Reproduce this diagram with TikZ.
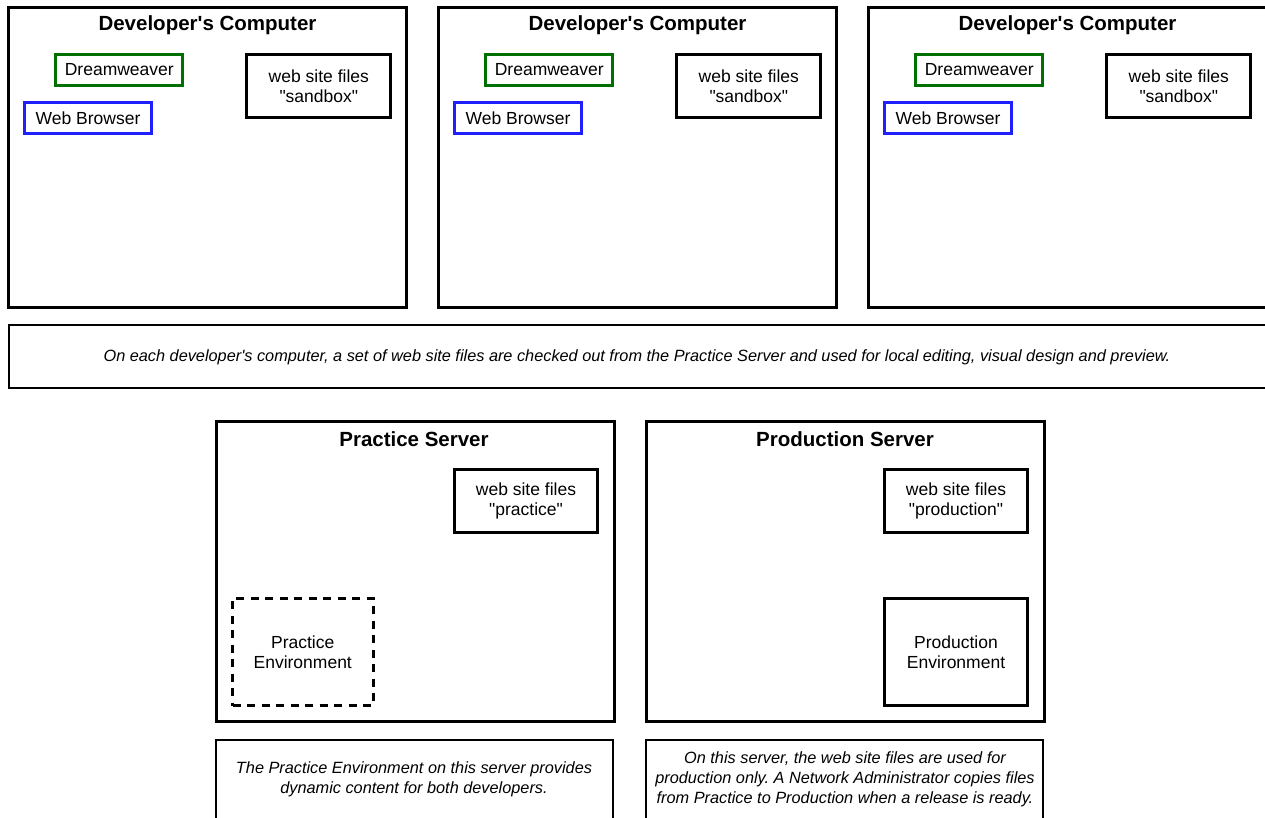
\documentclass[tikz,border=0pt]{standalone}
\usepackage{fontspec}
\setmainfont{Liberation Sans}[Ligatures=TeXOff]
\definecolor{dwgreen}{RGB}{0,112,0}
\definecolor{wbblue}{RGB}{32,32,255}
\frenchspacing
\begin{document}
\begin{tikzpicture}[x=1pt,y=-1pt,
  base/.style={inner sep=0pt, outer sep=0pt, anchor=north west, align=center,
    font=\fontsize{17.5}{20}\selectfont},
  machine/.style={base, draw, line width=3pt, minimum width=398pt, minimum height=300.5pt},
  filesbox/.style={base, draw, line width=3pt, minimum width=144pt, minimum height=63pt},
  dwbox/.style={base, draw=dwgreen, line width=3pt, minimum width=127pt, minimum height=30.5pt},
  wbbox/.style={base, draw=wbblue, line width=3pt, minimum width=126.5pt, minimum height=30.5pt},
  envbox/.style={base, draw, line width=3pt, minimum height=107.5pt},
  notebox/.style={base, draw, line width=2pt},
  heading/.style={font=\fontsize{20.5}{24}\selectfont\bfseries},
  notetext/.style={align=center, font=\fontsize{16.3}{20}\selectfont\itshape},
]
\useasboundingbox (0,0) rectangle (1265,817);
\clip (0,0) rectangle (1265,817);

% developers' computers
\foreach \i/\dx in {1/0,2/430,3/860}{
  \node[machine] (dev\i) at (8.2+\dx,7.3) {};
  \node[heading] (devtitle\i) at (207.5+\dx,25) {Developer's Computer};
  \node[dwbox] (dw\i) at (55.8+\dx,54.8) {Dreamweaver};
  \node[wbbox] (wb\i) at (24.8+\dx,102.8) {Web Browser};
  \node[filesbox] (sandbox\i) at (246.8+\dx,54.8) {web site files\\"sandbox"};
}

% note across the developers' row
\node[notebox, minimum width=1300pt, minimum height=63pt] (devnote) at (9,325) {};
\node[notetext] (devnotetext) at (637,357) {On each developer's computer, a set of web site files are checked out from the Practice Server and used for local editing, visual design and preview.};

% practice server
\node[machine] (practice) at (216,421) {};
\node[heading] (practicetitle) at (414,439) {Practice Server};
\node[filesbox, minimum width=143pt] (practicefiles) at (454.5,469.5) {web site files\\"practice"};
\node[envbox, dashed, dash pattern=on 8pt off 6.5pt, minimum width=140.5pt] (practiceenv) at (232.5,598) {Practice\\Environment};

% production server
\node[machine] (production) at (646.5,421) {};
\node[heading] (productiontitle) at (845,439) {Production Server};
\node[filesbox, minimum width=143pt] (productionfiles) at (884.5,469.5) {web site files\\"production"};
\node[envbox, minimum width=143pt] (productionenv) at (884.5,598) {Production\\Environment};

% captions under the servers
\node[notebox, minimum width=396.5pt, minimum height=100pt] (practicenote) at (216,740) {};
\node[notetext] (practicenotetext) at (414,779) {The Practice Environment on this server provides\\dynamic content for both developers.};
\node[notebox, minimum width=397pt, minimum height=100pt] (productionnote) at (646,740) {};
\node[notetext] (productionnotetext) at (845,779) {On this server, the web site files are used for\\production only. A Network Administrator copies files\\from Practice to Production when a release is ready.};
\end{tikzpicture}
\end{document}
